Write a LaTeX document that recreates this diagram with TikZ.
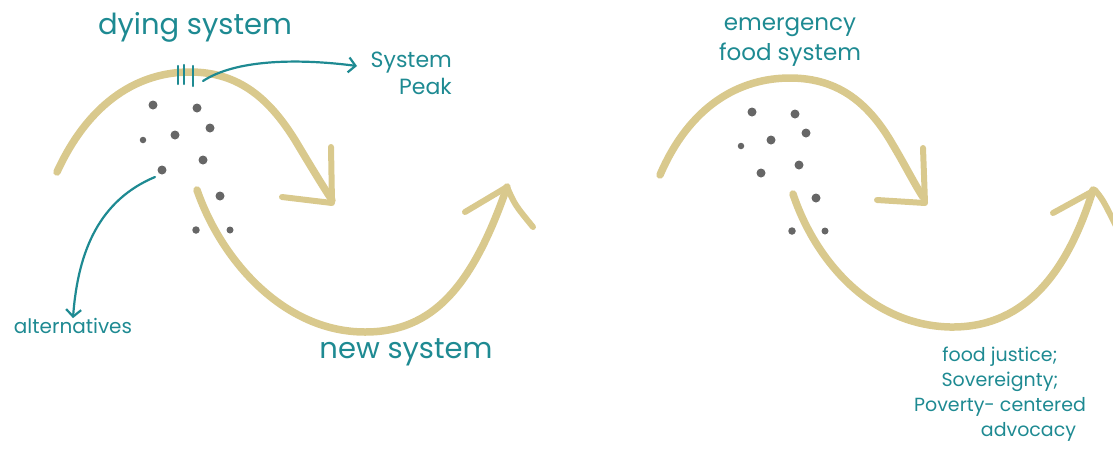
\documentclass[tikz,border=0pt]{standalone}
\usepackage{fontspec}
\setmainfont{Poppins}
\usetikzlibrary{arrows.meta}
\definecolor{ink}{HTML}{1E8A92}
\definecolor{sand}{HTML}{D9C98D}
\definecolor{dotgray}{HTML}{666666}
\begin{document}
\begin{tikzpicture}[x=1pt,y=-1pt,
  cycle/.style={draw=sand, line width=7.5pt, line cap=round, line join=round},
  tipstroke/.style={draw=sand, line width=6pt, line cap=round, line join=round},
  seed/.style={circle, fill=dotgray, inner sep=0pt, minimum size=#1},
  seed/.default=9pt,
  lbl/.style={text=ink, inner sep=0pt},
  pointer/.style={draw=ink, line width=2.2pt, line cap=round,
    -{Straight Barb[length=7pt,width=15pt]}},
  tally/.style={draw=ink, line width=2.2pt, line cap=round},
]
\useasboundingbox (0,0) rectangle (1113,448);

% ---------- left cycle: dying system -> new system ----------
\draw[cycle] (57,172) .. controls (90,100) and (140,72) .. (190,72)
  .. controls (240,72) and (270,100) .. (295,140)
  .. controls (310,165) and (322,185) .. (332,200);
\draw[tipstroke] (331,147) -- (332,203) -- (282,197);
\draw[cycle] (197,190) .. controls (222,262) and (285,332) .. (365,332)
  .. controls (432,332) and (472,288) .. (507,187);
\draw[tipstroke] (465,212) -- (507,187) .. controls (515,205) .. (533,227);

% seeds of alternatives
\node[seed] (d1) at (153,105) {};
\node[seed] (d2) at (197,108) {};
\node[seed] (d3) at (210,128) {};
\node[seed] (d4) at (175,135) {};
\node[seed=6.5pt] (d5) at (143,140) {};
\node[seed] (d6) at (203,160) {};
\node[seed] (d7) at (162,170) {};
\node[seed] (d8) at (220,196) {};
\node[seed=7.5pt] (d9) at (196,230) {};
\node[seed=7pt] (d10) at (230,230) {};

% peak marker
\draw[tally] (178,66) -- (178,84);
\draw[tally] (184,65) -- (184,84);
\draw[tally] (193,66) -- (193,86);
\coordinate (peakmark) at (203,81);
\coordinate (peaktip) at (357,66);
\coordinate (altstart) at (155,177);

\node[lbl, font=\fontsize{29}{31}\selectfont] (dying) at (195,27) {dying system};
\node[lbl, font=\fontsize{22}{27}\selectfont, align=right, anchor=north east]
  (peaklbl) at (452,52) {System\\Peak};
\node[lbl, font=\fontsize{20}{22}\selectfont] (alt) at (73,326) {alternatives};
\node[lbl, font=\fontsize{29}{31}\selectfont] (newsys) at (406,352) {new system};

\draw[pointer] (peakmark) .. controls (235,60) and (295,58) .. (peaktip);
\draw[pointer] (altstart) .. controls (100,200) and (78,250) .. (alt.north);

% ---------- right cycle: emergency food system ----------
\draw[cycle] (660,175) .. controls (690,105) and (740,78) .. (790,78)
  .. controls (840,78) and (870,105) .. (893,145)
  .. controls (905,165) and (915,185) .. (923,197);
\draw[tipstroke] (923,148) -- (925,203) -- (877,200);
\draw[cycle] (793,194) .. controls (815,260) and (870,325) .. (950,327)
  .. controls (1020,328) and (1065,280) .. (1093,190);
\draw[tipstroke] (1053,213) -- (1095,190) .. controls (1103,200) .. (1116,226);

\node[seed] (e1) at (752,112) {};
\node[seed] (e2) at (795,114) {};
\node[seed] (e3) at (806,133) {};
\node[seed] (e4) at (771,140) {};
\node[seed=6.5pt] (e5) at (741,146) {};
\node[seed] (e6) at (799,165) {};
\node[seed] (e7) at (761,173) {};
\node[seed] (e8) at (816,198) {};
\node[seed=7.5pt] (e9) at (792,231) {};
\node[seed=7pt] (e10) at (825,231) {};

\node[lbl, font=\fontsize{23}{30}\selectfont, align=center] (efs) at (790,42)
  {emergency\\food system};
\node[lbl, font=\fontsize{19}{25}\selectfont, align=center] (fj) at (1000,394)
  {food justice;\\Sovereignty;\\Poverty- centered\\\hspace*{3em}advocacy};
\end{tikzpicture}
\end{document}
